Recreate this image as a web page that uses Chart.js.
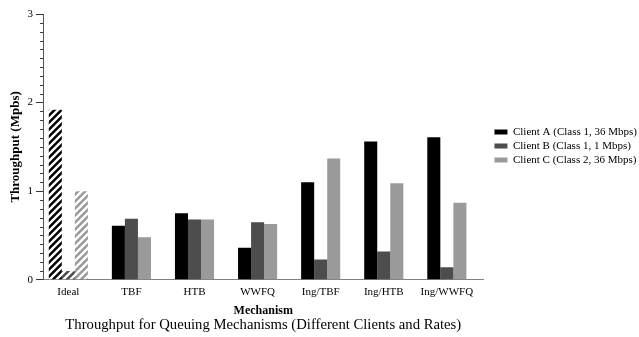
<!DOCTYPE html>
<html><head><meta charset="utf-8">
<script src="https://cdn.jsdelivr.net/npm/chart.js@4"></script>
<style>html,body{margin:0;padding:0;background:#fff}#wrap{width:639px;height:337px}</style>
</head><body><div id="wrap"><canvas id="c"></canvas></div>
<script>
// Throughput per queuing mechanism, per client (Mbps)
const mechanisms = ['Ideal', 'TBF', 'HTB', 'WWFQ', 'Ing/TBF', 'Ing/HTB', 'Ing/WWFQ'];
const clientA = [1.92, 0.61, 0.75, 0.36, 1.10, 1.56, 1.61];
const clientB = [0.10, 0.69, 0.68, 0.65, 0.23, 0.32, 0.14];
const clientC = [1.00, 0.48, 0.68, 0.63, 1.37, 1.09, 0.87];
const seriesNames = ['Client A (Class 1, 36 Mbps)', 'Client B (Class 1, 1 Mbps)', 'Client C (Class 2, 36 Mbps)'];
const seriesColors = ['#000000', '#4d4d4d', '#9a9a9a'];
const yTicks = [0, 1, 2, 3];

const SERIF = '"Liberation Serif", "Times New Roman", serif';

// Diagonal white hatching used for the "Ideal" reference bars
function hatch(color) {
  const s = 7;
  const cv = document.createElement('canvas');
  cv.width = s; cv.height = s;
  const g = cv.getContext('2d');
  g.fillStyle = color; g.fillRect(0, 0, s, s);
  g.strokeStyle = '#ffffff'; g.lineWidth = 2.4; g.lineCap = 'square';
  g.beginPath();
  g.moveTo(-1, 1); g.lineTo(1, -1);
  g.moveTo(0, s); g.lineTo(s, 0);
  g.moveTo(s - 1, s + 1); g.lineTo(s + 1, s - 1);
  g.stroke();
  return g.createPattern(cv, 'repeat');
}

function makeSet(name, values, color) {
  const pat = hatch(color);
  return {
    label: name,
    data: values.map((v, i) => ({ x: i, y: v })),
    backgroundColor: values.map((_, i) => i === 0 ? pat : color),
    borderWidth: 0,
    categoryPercentage: 0.62,
    barPercentage: 1.0
  };
}

// Short minor tick marks every 0.1 on the value axis
const minorTicks = {
  id: 'minorTicks',
  afterDraw(chart) {
    const y = chart.scales.y, ctx = chart.ctx, left = chart.chartArea.left;
    ctx.save();
    ctx.strokeStyle = '#333'; ctx.lineWidth = 1;
    for (let k = 1; k < 30; k++) {
      if (k % 10 === 0) continue;
      const py = Math.round(y.getPixelForValue(k / 10)) + 0.5;
      ctx.beginPath(); ctx.moveTo(left - 3, py); ctx.lineTo(left, py); ctx.stroke();
    }
    ctx.restore();
  }
};

// Push the legend a little further right and centre it on the plot area
const legendNudge = {
  id: 'legendNudge',
  afterLayout(chart) {
    const lg = chart.legend, ca = chart.chartArea;
    if (!lg) return;
    lg.left += 8; lg.right += 8;
    const dy = (ca.top + ca.bottom) / 2 - 1 - (lg.top + lg.bottom) / 2;
    lg.top += dy; lg.bottom += dy;
  }
};

new Chart(document.getElementById('c'), {
  type: 'bar',
  data: {
    datasets: [
      makeSet(seriesNames[0], clientA, seriesColors[0]),
      makeSet(seriesNames[1], clientB, seriesColors[1]),
      makeSet(seriesNames[2], clientC, seriesColors[2])
    ]
  },
  options: {
    responsive: true,
    maintainAspectRatio: false,
    animation: false,
    layout: { padding: { top: 14, right: 0, left: 8, bottom: 0 } },
    scales: {
      x: {
        type: 'linear',
        offset: false,
        min: -0.4,
        max: 6.58,
        afterBuildTicks(scale) { scale.ticks = mechanisms.map((_, i) => ({ value: i })); },
        ticks: {
          callback: v => mechanisms[v],
          font: { family: SERIF, size: 11 },
          color: '#000',
          padding: 6,
          maxRotation: 0,
          autoSkip: false
        },
        grid: { display: true, offset: false, drawOnChartArea: false, drawTicks: false },
        border: { display: true, color: '#808080', width: 1 },
        title: { display: true, text: 'Mechanism', font: { family: SERIF, size: 12, weight: 'bold' }, color: '#000', padding: { top: -1, bottom: -2 } }
      },
      y: {
        min: 0,
        max: 3,
        afterBuildTicks(scale) { scale.ticks = yTicks.map(v => ({ value: v })); },
        ticks: { font: { family: SERIF, size: 11 }, color: '#000', padding: 3 },
        grid: { drawOnChartArea: false, tickLength: 7, color: '#333' },
        border: { display: true, color: '#555', width: 1 },
        title: { display: true, text: 'Throughput (Mpbs)', font: { family: SERIF, size: 13, weight: 'bold' }, color: '#000', padding: { top: 0, bottom: 1 } }
      }
    },
    plugins: {
      legend: {
        position: 'right',
        labels: { boxWidth: 13, boxHeight: 5, padding: 3, font: { family: SERIF, size: 11 }, color: '#000',
          generateLabels(chart) {
            return chart.data.datasets.map((d, i) => ({
              text: d.label, fillStyle: seriesColors[i], strokeStyle: seriesColors[i], lineWidth: 0, datasetIndex: i, hidden: false
            }));
          }
        }
      },
      title: {
        display: true,
        position: 'bottom',
        fullSize: false,
        text: 'Throughput for Queuing Mechanisms (Different Clients and Rates)',
        font: { family: SERIF, size: 14.7, weight: 'normal' },
        color: '#000',
        padding: { top: 0, bottom: 3 }
      },
      tooltip: { enabled: false }
    }
  },
  plugins: [minorTicks, legendNudge]
});
</script></body></html>
